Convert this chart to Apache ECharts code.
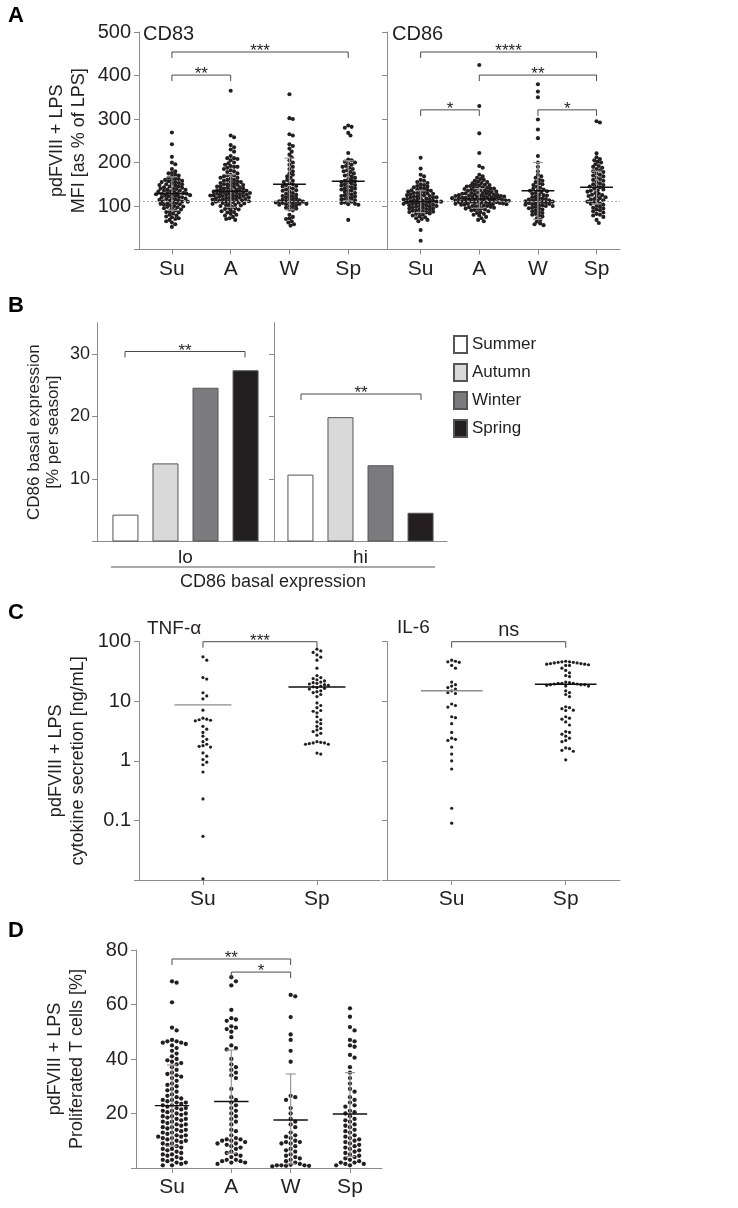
<!DOCTYPE html>
<html lang="en">
<head>
<meta charset="UTF-8">
<title>Seasonal DC response</title>
<script src="https://cdn.jsdelivr.net/npm/echarts@6/dist/echarts.min.js"></script>
<style>html,body{margin:0;padding:0;background:#fff;}</style>
</head>
<body>
<div id="main" style="width:738px;height:1208px;"></div>
<script>
// categories
var seasons = ['Su', 'A', 'W', 'Sp'];
var seasonsC = ['Su', 'Sp'];
var seasonNames = ['Summer', 'Autumn', 'Winter', 'Spring'];
var basalGroups = ['lo', 'hi'];

// A: CD83 MFI (% of LPS)
var cd83Su = [269, 242, 213, 200, 196, 185, 180, 176, 175, 172, 170, 168, 165, 163, 162, 160, 160, 158, 157, 155, 155, 153, 152, 150, 150, 148, 147, 145, 145, 143, 142, 140, 140, 139, 138, 137, 135, 135, 134, 133, 132, 130, 130, 129, 128, 128, 127, 126, 125, 124, 123, 122, 121, 120, 120, 118, 117, 116, 115, 114, 113, 112, 111, 110, 110, 108, 107, 106, 105, 104, 103, 102, 100, 99, 98, 97, 95, 94, 92, 90, 88, 86, 85, 83, 80, 78, 76, 74, 72, 70, 68, 65, 62, 58, 52];
var cd83A = [365, 262, 258, 240, 235, 230, 225, 215, 210, 210, 208, 205, 200, 198, 195, 192, 190, 190, 188, 185, 182, 180, 178, 175, 172, 170, 170, 168, 165, 165, 163, 160, 160, 158, 157, 155, 155, 153, 152, 150, 150, 149, 148, 147, 145, 145, 144, 143, 142, 140, 140, 139, 138, 137, 136, 135, 135, 134, 133, 133, 132, 131, 130, 130, 129, 128, 128, 127, 126, 126, 125, 125, 124, 123, 123, 122, 121, 120, 120, 119, 118, 118, 117, 116, 115, 115, 114, 113, 112, 112, 111, 110, 110, 109, 108, 107, 106, 105, 104, 103, 102, 101, 100, 98, 96, 95, 93, 92, 90, 88, 86, 85, 82, 80, 78, 75, 72, 70, 68];
var cd83W = [357, 302, 300, 265, 262, 242, 238, 232, 225, 218, 212, 205, 200, 195, 190, 185, 180, 175, 172, 168, 165, 160, 158, 155, 152, 150, 148, 146, 145, 142, 140, 138, 136, 135, 133, 130, 128, 126, 125, 123, 122, 120, 118, 117, 115, 114, 113, 112, 111, 110, 110, 109, 108, 107, 106, 105, 105, 104, 103, 102, 100, 98, 96, 94, 92, 90, 80, 75, 72, 70, 65, 62, 58, 55];
var cd83Sp = [285, 282, 280, 268, 262, 222, 207, 205, 202, 200, 198, 195, 192, 190, 188, 185, 182, 180, 178, 175, 172, 170, 168, 165, 162, 160, 158, 157, 155, 154, 152, 150, 148, 147, 145, 143, 141, 140, 138, 136, 135, 133, 130, 128, 126, 125, 123, 122, 120, 118, 116, 115, 113, 112, 110, 108, 107, 105, 104, 103, 68];
var cd83Median = [128, 134, 150, 157];
var cd83Low = [90, 97, 91, 112];
var cd83High = [167, 172, 210, 204];

// A: CD86 MFI (% of LPS)
var cd86Su = [211, 186, 172, 168, 160, 158, 155, 153, 150, 148, 146, 145, 143, 142, 140, 138, 137, 136, 135, 134, 133, 132, 130, 130, 129, 128, 127, 126, 125, 124, 123, 122, 121, 120, 120, 119, 118, 117, 116, 115, 115, 114, 113, 112, 112, 111, 110, 110, 109, 108, 108, 107, 106, 105, 105, 104, 103, 102, 101, 100, 100, 99, 98, 97, 96, 95, 94, 93, 92, 91, 90, 89, 88, 87, 86, 85, 84, 83, 82, 80, 78, 76, 74, 72, 70, 68, 65, 45, 20];
var cd86A = [424, 330, 267, 222, 192, 188, 172, 168, 165, 162, 160, 158, 156, 155, 153, 152, 150, 149, 148, 147, 146, 145, 144, 143, 142, 141, 140, 140, 139, 138, 137, 136, 135, 135, 134, 133, 132, 131, 130, 130, 129, 128, 128, 127, 126, 126, 125, 125, 124, 124, 123, 123, 122, 122, 121, 121, 120, 120, 119, 119, 118, 118, 117, 117, 116, 116, 115, 115, 114, 114, 113, 113, 112, 112, 111, 111, 110, 110, 109, 109, 108, 108, 107, 107, 106, 106, 105, 105, 104, 104, 103, 103, 102, 101, 100, 100, 99, 98, 97, 96, 95, 94, 93, 92, 91, 90, 88, 86, 84, 82, 80, 78, 75, 72, 68, 65];
var cd86W = [380, 363, 350, 299, 276, 256, 215, 200, 190, 180, 172, 168, 165, 160, 158, 155, 152, 150, 148, 145, 142, 140, 138, 136, 135, 134, 132, 130, 128, 126, 125, 124, 122, 120, 118, 117, 116, 115, 114, 113, 112, 111, 110, 110, 109, 108, 107, 106, 105, 104, 103, 102, 101, 100, 100, 98, 96, 95, 94, 92, 90, 88, 86, 84, 82, 80, 78, 76, 72, 68, 64, 60, 58, 56];
var cd86Sp = [295, 292, 221, 212, 208, 205, 202, 200, 196, 192, 190, 188, 185, 182, 180, 178, 175, 172, 170, 168, 165, 162, 160, 158, 155, 152, 150, 148, 146, 145, 143, 140, 138, 136, 135, 133, 130, 128, 126, 125, 123, 122, 120, 118, 116, 115, 113, 112, 110, 108, 106, 105, 103, 100, 98, 96, 94, 92, 90, 88, 85, 82, 80, 78, 75, 68, 61];
var cd86Median = [110, 116, 135, 143];
var cd86Low = [85, 95, 69, 105];
var cd86High = [135, 140, 200, 180];
var lpsRef = 110;

// B: CD86 basal expression, % per season
var basalLo = [4.3, 12.5, 24.6, 27.4];
var basalHi = [10.7, 19.9, 12.2, 4.6];

// C: cytokine secretion, ng/mL
var tnfSu = [55.7, 49, 25, 23.6, 13.9, 12.3, 11, 7.1, 5.2, 5.0, 4.9, 4.8, 4.7, 3.8, 3.4, 3.0, 2.6, 2.3, 2.1, 1.9, 1.8, 1.75, 1.7, 1.36, 1.2, 1.05, 0.95, 0.86, 0.65, 0.23, 0.054, 0.0105];
var tnfSp = [75, 70, 66, 60, 55, 49, 36, 27, 25, 24, 23, 22, 21, 20.5, 20, 19.5, 19, 18.5, 18, 17.5, 17, 16.5, 16, 15, 14.5, 14, 13, 12, 9.4, 8.5, 7.8, 7, 6.8, 6.4, 5.5, 4.9, 4.5, 4.2, 3.8, 3.5, 3.3, 3.1, 2.9, 2.7, 2.1, 2.05, 2.0, 2.0, 1.95, 1.9, 1.9, 1.35, 1.3];
var il6Su = [49, 47, 46, 45, 40, 36, 21, 19, 18, 17, 16, 15, 14, 13.5, 9, 8.5, 8, 5.5, 5.3, 4.2, 3, 2.4, 2.3, 2.2, 1.7, 1.3, 1.0, 0.73, 0.16, 0.09];
var il6Sp = [47, 46, 46, 45, 45, 44, 44, 43, 43, 42, 42, 41, 40, 40, 36, 33, 30, 27, 26, 21, 20.5, 20, 20, 20, 19.5, 19.5, 19, 19, 19, 18.5, 18, 18, 15, 14, 13, 12, 8.1, 7.8, 7.5, 7.1, 7, 5.5, 5.2, 5, 4.5, 4, 3.1, 3, 2.8, 2.6, 2.4, 2.2, 2.1, 1.65, 1.6, 1.5, 1.45, 1.04];
var tnfMedian = [8.7, 17.4];
var il6Median = [15, 19.3];

// D: proliferated T cells, %
var tcSu = [68.5, 68, 60.8, 51.5, 50.5, 47, 46.5, 46.5, 46, 46, 45.5, 45, 44, 43, 42, 41, 40, 39.5, 39, 38.5, 38, 37, 36, 35, 34.5, 34, 33.5, 33, 32, 31, 30.5, 30, 29, 28.5, 28, 27, 26.5, 26, 25.5, 25, 25, 24.5, 24, 24, 23.5, 23, 23, 22.5, 22, 22, 21.5, 21, 21, 20.5, 20, 20, 19.5, 19, 19, 18.5, 18, 18, 17.5, 17, 17, 16.5, 16, 16, 15.5, 15, 15, 14.5, 14, 14, 13.5, 13, 13, 12.5, 12, 12, 11.5, 11.5, 11, 11, 10.5, 10, 10, 9.5, 9, 9, 8.5, 8, 7.5, 7, 7, 6.5, 6, 5.5, 5, 5, 4.5, 4, 3.5, 3, 3, 2.5, 2, 2, 1.5, 1, 1];
var tcA = [70, 68.5, 67, 58, 55, 54.5, 54, 52, 51.5, 51, 50, 48, 45, 44, 43.5, 40, 38, 37, 36, 35, 34, 33, 29, 26, 25, 24, 23, 22, 21, 20, 19, 18, 17, 16, 14, 13.5, 12, 11, 10.5, 10.5, 10, 10, 9.5, 9, 9, 8.5, 8, 7.5, 7, 6, 5.5, 5, 4.5, 4, 3, 3, 2.5, 2.5, 2, 2, 1.5];
var tcW = [63.5, 63, 55.4, 49, 47, 43, 39, 26.5, 26, 25, 22, 20, 18, 17, 16, 15, 13, 12, 11.5, 11, 10, 9.5, 9.5, 9, 9, 8, 7, 6.5, 6, 5, 4.5, 4, 3.5, 3, 2.5, 2, 1.5, 1.2, 1, 1, 1, 0.8, 0.8, 0.6];
var tcSp = [58.6, 55.5, 51.7, 50.5, 47, 46.5, 45, 44.5, 41.5, 40.5, 37, 35, 33, 31, 29, 28, 26, 25, 24, 23, 22.5, 21, 20.5, 20, 19, 18, 17.5, 17, 16, 15.5, 15, 14, 13.5, 13, 12, 11.5, 11, 10.5, 10, 9.5, 9, 8.5, 8, 7.5, 7, 6.5, 6, 5.5, 5, 4.5, 4, 3.5, 3, 2.5, 2, 2, 1.5, 1.5, 1, 1];
var tcMedian = [22.9, 24.4, 17.6, 19.8];
var tcLow = [8, 5.4, 1.5, 4.2];
var tcHigh = [37.8, 43.3, 34.5, 35];

// significance brackets: [from, to, y, label]
var sigCD83 = [[0, 3, 454, '***'], [0, 1, 401, '**']];
var sigCD86 = [[0, 3, 454, '****'], [1, 3, 401, '**'], [0, 1, 321, '*'], [2, 3, 321, '*']];
var sigLo = [[0, 3, 30.4, '**']];
var sigHi = [[0, 3, 23.6, '**']];
var sigTnf = [[0, 1, 100, '***']];
var sigIl6 = [[0, 1, 100, 'ns']];
var sigTc = [[0, 2, 76.7, '**'], [1, 2, 71.9, '*']];

var FONT = "'Liberation Sans', Arial, sans-serif";
var AX = '#8c8c8c';
var TXT = '#231f20';
var barColors = ['#ffffff', '#d9d9d9', '#7b7b7d', '#231f20'];

var myChart = echarts.init(document.getElementById('main'));

function xVal(grid, min, max, names) {
    var idx = names.map(function (n, i) { return i; });
    return {
        type: 'value', gridIndex: grid, min: min, max: max,
        axisLine: {onZero: false, lineStyle: {color: AX}}, splitLine: {show: false},
        axisTick: {length: 5, lineStyle: {color: AX}, customValues: idx},
        axisLabel: {customValues: idx, formatter: function (v) { return names[Math.round(v)]; },
            fontSize: 21, color: TXT, margin: 9, fontFamily: FONT}
    };
}

function yLin(grid, max, step, name, gap, labels) {
    return {
        type: 'value', gridIndex: grid, min: 0, max: max, interval: step,
        axisLine: {show: true, onZero: false, lineStyle: {color: AX}}, splitLine: {show: false},
        axisTick: {show: true, length: 5, lineStyle: {color: AX}},
        axisLabel: {show: labels, fontSize: 20, color: TXT, margin: 8, fontFamily: FONT,
            formatter: function (v) { return v === 0 ? '' : v; }},
        name: name, nameLocation: 'middle', nameGap: gap, nameRotate: 90,
        nameTextStyle: {fontSize: 18, color: TXT, lineHeight: 22, fontFamily: FONT}
    };
}

function yLog(grid, name, labels) {
    return {
        type: 'log', logBase: 10, gridIndex: grid, min: 0.01, max: 100,
        axisLine: {show: true, onZero: false, lineStyle: {color: AX}}, splitLine: {show: false},
        axisTick: {show: true, length: 5, lineStyle: {color: AX}},
        axisLabel: {show: labels, fontSize: 20, color: TXT, margin: 8, fontFamily: FONT,
            formatter: function (v) { return v < 0.05 ? '' : String(+v.toPrecision(3)); }},
        name: name, nameLocation: 'middle', nameGap: 50, nameRotate: 90,
        nameTextStyle: {fontSize: 18, color: TXT, lineHeight: 22, fontFamily: FONT}
    };
}

function xCat(grid, name) {
    return {
        type: 'category', gridIndex: grid, data: [name],
        axisLine: {onZero: false, lineStyle: {color: AX}},
        axisTick: {alignWithLabel: true, length: 5, lineStyle: {color: AX}},
        axisLabel: {fontSize: 19, color: TXT, margin: 7, fontFamily: FONT}
    };
}

function yBar(grid, labels) {
    return {
        type: 'value', gridIndex: grid, min: 0, max: 35, interval: 10,
        axisLine: {show: true, onZero: false, lineStyle: {color: AX}}, splitLine: {show: false},
        axisTick: {show: true, length: 5, lineStyle: {color: AX}, customValues: [0, 10, 20, 30]},
        axisLabel: {show: labels, customValues: [10, 20, 30], fontSize: 18, color: TXT, margin: 7, fontFamily: FONT},
        name: labels ? 'CD86 basal expression\n[% per season]' : '', nameLocation: 'middle', nameGap: 34, nameRotate: 90,
        nameTextStyle: {fontSize: 17, color: TXT, lineHeight: 19, fontFamily: FONT}
    };
}

var option = {
    animation: false,
    backgroundColor: '#fff',
    textStyle: {fontFamily: FONT},
    grid: [
        {left: 139, top: 32, width: 248, height: 217.5},
        {left: 387, top: 32, width: 233, height: 217.5},
        {left: 97, top: 322.75, width: 177, height: 218.75},
        {left: 274, top: 322.75, width: 173, height: 218.75},
        {left: 139, top: 641.7, width: 241, height: 238.3},
        {left: 387, top: 641.7, width: 233, height: 238.3},
        {left: 136, top: 950, width: 246, height: 218}
    ],
    xAxis: [
        xVal(0, -0.56, 3.66, seasons),
        xVal(1, -0.574, 3.4, seasons),
        xCat(2, basalGroups[0]),
        xCat(3, basalGroups[1]),
        xVal(4, -0.561, 1.553, seasonsC),
        xVal(5, -0.567, 1.476, seasonsC),
        xVal(6, -0.607, 3.54, seasons),
        // hidden bar-position axes for the panel B brackets
        {type: 'value', gridIndex: 2, min: -0.7, max: 3.725, show: false},
        {type: 'value', gridIndex: 3, min: -0.675, max: 3.65, show: false}
    ],
    yAxis: [
        yLin(0, 500, 100, 'pdFVIII + LPS\nMFI [as % of LPS]', 49, true),
        yLin(1, 500, 100, '', 0, false),
        yBar(2, true),
        yBar(3, false),
        yLog(4, 'pdFVIII + LPS\ncytokine secretion [ng/mL]', true),
        yLog(5, '', false),
        yLin(6, 80, 20, 'pdFVIII + LPS\nProliferated T cells [%]', 48, true)
    ],
    legend: {
        orient: 'vertical', left: 448, top: 330, itemWidth: 13, itemHeight: 17, itemGap: 9,
        icon: 'rect', data: seasonNames, selectedMode: false,
        textStyle: {fontSize: 17, color: TXT, fontFamily: FONT}
    },
    graphic: [
        {type: 'text', x: 8, y: 5, style: {text: 'A', font: 'bold 22px ' + FONT, fill: '#000'}},
        {type: 'text', x: 8, y: 295, style: {text: 'B', font: 'bold 22px ' + FONT, fill: '#000'}},
        {type: 'text', x: 8, y: 602, style: {text: 'C', font: 'bold 22px ' + FONT, fill: '#000'}},
        {type: 'text', x: 8, y: 920, style: {text: 'D', font: 'bold 22px ' + FONT, fill: '#000'}},
        {type: 'text', x: 143, y: 24, style: {text: 'CD83', font: '20px ' + FONT, fill: TXT}},
        {type: 'text', x: 392, y: 24, style: {text: 'CD86', font: '20px ' + FONT, fill: TXT}},
        {type: 'text', x: 147, y: 619, style: {text: 'TNF-α', font: '19px ' + FONT, fill: TXT}},
        {type: 'text', x: 397, y: 618, style: {text: 'IL-6', font: '19px ' + FONT, fill: TXT}},
        {type: 'line', shape: {x1: 111, y1: 567, x2: 435, y2: 567}, style: {stroke: '#555', lineWidth: 1}},
        {type: 'text', x: 273, y: 573, style: {text: 'CD86 basal expression', font: '18px ' + FONT, fill: TXT, textAlign: 'center'}}
    ],
    series: []
};
myChart.setOption(option);

// beeswarm layout in pixel space, offsets turned back into x units
// round = circle packing, otherwise row-like box packing
function swarm(grid, xi, values, d, round) {
    var p0 = myChart.convertToPixel({gridIndex: grid}, [0, values[0]]);
    var p1 = myChart.convertToPixel({gridIndex: grid}, [1, values[0]]);
    var pxPerX = p1[0] - p0[0];
    var step = round ? d / 3 : d;
    var pts = values.map(function (v) {
        return {v: v, y: myChart.convertToPixel({gridIndex: grid}, [xi, v])[1]};
    });
    pts.sort(function (a, b) { return a.y - b.y; });
    var placed = [];
    var out = [];
    pts.forEach(function (p) {
        for (var k = 0; k < 200; k++) {
            var dx = k === 0 ? 0 : (k % 2 ? 1 : -1) * Math.ceil(k / 2) * step;
            var ok = placed.every(function (q) {
                var ddy = q.y - p.y, ddx = q.dx - dx;
                if (round) return ddx * ddx + ddy * ddy >= d * d;
                return Math.abs(ddy) >= d * 0.95 || Math.abs(ddx) >= d * 0.95;
            });
            if (ok) {
                placed.push({y: p.y, dx: dx});
                out.push([xi + dx / pxPerX, p.v]);
                break;
            }
        }
    });
    return out;
}

function dots(grid, groups, d, size, round, extra) {
    var data = [];
    groups.forEach(function (g, i) { data = data.concat(swarm(grid, i, g, d, round)); });
    var s = {
        type: 'scatter', xAxisIndex: grid, yAxisIndex: grid, symbolSize: size,
        itemStyle: {color: TXT, opacity: 1}, silent: true, z: 3, data: data
    };
    if (extra) s.markLine = extra;
    return s;
}

function stats(grid, med, low, high, colors, half) {
    return {
        type: 'custom', xAxisIndex: grid, yAxisIndex: grid, silent: true, z: 5,
        data: med.map(function (m, i) { return [i, m]; }),
        renderItem: function (params, api) {
            var i = params.dataIndex;
            var x = api.value(0), m = api.value(1);
            var a = api.coord([x - half, m]), b = api.coord([x + half, m]);
            var kids = [];
            if (low) {
                var lo = api.coord([x, low[i]]), hi = api.coord([x, high[i]]);
                var cw = api.size([0.085, 0])[0];
                var es = {stroke: '#9a9a9a', lineWidth: 1.2};
                kids.push({type: 'line', shape: {x1: lo[0], y1: lo[1], x2: hi[0], y2: hi[1]}, style: es});
                kids.push({type: 'line', shape: {x1: lo[0] - cw, y1: lo[1], x2: lo[0] + cw, y2: lo[1]}, style: es});
                kids.push({type: 'line', shape: {x1: hi[0] - cw, y1: hi[1], x2: hi[0] + cw, y2: hi[1]}, style: es});
            }
            kids.push({type: 'line', shape: {x1: a[0], y1: a[1], x2: b[0], y2: b[1]},
                style: {stroke: colors[i], lineWidth: 1.4}});
            return {type: 'group', children: kids};
        }
    };
}

function brackets(xi, yi, list, drop, size) {
    return {
        type: 'custom', xAxisIndex: xi, yAxisIndex: yi, silent: true, z: 6,
        data: list.map(function (b) { return [b[0], b[2]]; }),
        renderItem: function (params, api) {
            var b = list[params.dataIndex];
            var p1 = api.coord([b[0], b[2]]), p2 = api.coord([b[1], b[2]]);
            var star = b[3].charAt(0) === '*';
            return {type: 'group', children: [
                {type: 'polyline', shape: {points: [[p1[0], p1[1] + drop], [p1[0], p1[1]], [p2[0], p2[1]], [p2[0], p2[1] + drop]]},
                    style: {stroke: '#4a4a4a', fill: null, lineWidth: 1}},
                {type: 'text', x: (p1[0] + p2[0]) / 2, y: star ? p1[1] + 8 : p1[1] - 1,
                    style: {text: b[3], align: 'center', verticalAlign: 'bottom', fill: TXT,
                        font: (star ? 17 : size) + 'px ' + FONT}}
            ]};
        }
    };
}

var refLine = {
    silent: true, symbol: 'none', label: {show: false},
    lineStyle: {type: [2, 2], color: '#a8a8a8', width: 1},
    data: [{yAxis: lpsRef}]
};

var series = [
    dots(0, [cd83Su, cd83A, cd83W, cd83Sp], 3.4, 4.1, true, refLine),
    dots(1, [cd86Su, cd86A, cd86W, cd86Sp], 3.4, 4.1, true, refLine),
    stats(0, cd83Median, cd83Low, cd83High, ['#111', '#111', '#111', '#111'], 0.28),
    stats(1, cd86Median, cd86Low, cd86High, ['#111', '#111', '#111', '#111'], 0.28),
    brackets(0, 0, sigCD83, 6, 17),
    brackets(1, 1, sigCD86, 6, 17),
    dots(4, [tnfSu, tnfSp], 3.8, 3.2, false),
    dots(5, [il6Su, il6Sp], 3.8, 3.2, false),
    stats(4, tnfMedian, null, null, ['#8c8c8c', '#111'], 0.25),
    stats(5, il6Median, null, null, ['#8c8c8c', '#111'], 0.27),
    brackets(4, 4, sigTnf, 6, 19),
    brackets(5, 5, sigIl6, 6, 20),
    dots(6, [tcSu, tcA, tcW, tcSp], 4.6, 4.3, false),
    stats(6, tcMedian, tcLow, tcHigh, ['#111', '#111', '#111', '#111'], 0.29),
    brackets(6, 6, sigTc, 6, 17),
    brackets(7, 2, sigLo, 6, 17),
    brackets(8, 3, sigHi, 6, 17)
];

seasonNames.forEach(function (name, i) {
    [basalLo, basalHi].forEach(function (vals, g) {
        series.push({
            name: name, type: 'bar', xAxisIndex: 2 + g, yAxisIndex: 2 + g,
            barWidth: 26, barGap: '54%', silent: true,
            itemStyle: {color: barColors[i], borderColor: '#555', borderWidth: 1},
            data: [vals[i]]
        });
    });
});

myChart.setOption({series: series});
</script>
</body>
</html>
